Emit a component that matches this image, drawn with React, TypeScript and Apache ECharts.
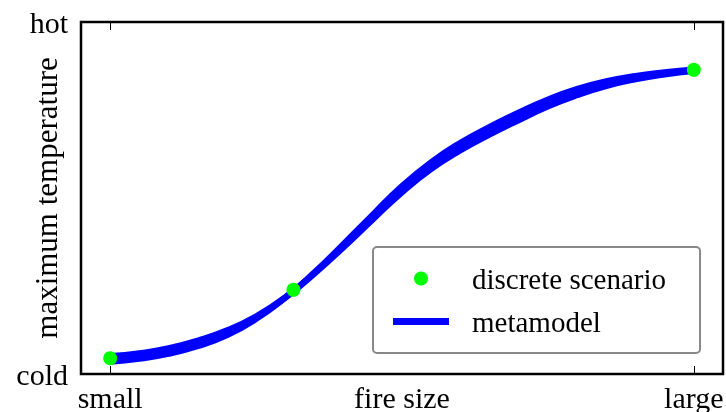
import React, { useEffect, useRef } from "react";
import * as echarts from "echarts";

// fire size (0 = small, 1 = large)
const xs = [0, 0.05, 0.1, 0.15, 0.2, 0.25, 0.3, 0.35, 0.4, 0.45, 0.5, 0.55, 0.6, 0.65, 0.7, 0.75, 0.8, 0.85, 0.9, 0.95, 1.0];
// metamodel realisations (0 = cold, 1 = hot)
const metamodelCenter = [0.043, 0.051, 0.065, 0.087, 0.117, 0.160, 0.217, 0.287, 0.365, 0.446, 0.525, 0.592, 0.646, 0.691, 0.732, 0.770, 0.801, 0.825, 0.842, 0.854, 0.863];
const metamodelUpper = [0.051, 0.059, 0.073, 0.095, 0.124, 0.164, 0.218, 0.289, 0.370, 0.453, 0.534, 0.602, 0.657, 0.702, 0.743, 0.780, 0.810, 0.832, 0.847, 0.857, 0.865];
const metamodelLower = [0.035, 0.043, 0.057, 0.079, 0.110, 0.156, 0.216, 0.285, 0.360, 0.439, 0.516, 0.582, 0.635, 0.680, 0.721, 0.760, 0.792, 0.818, 0.837, 0.851, 0.861];
// discrete scenarios
const scenarioX = [0, 0.314, 1];
const scenarioY = [0.045, 0.239, 0.864];

const xTickValues = [0, 1];
const xTickLabels = ["small", "large"];
const yTickValues = [0, 1];
const yTickLabels = ["cold", "hot"];

const FONT = "Liberation Serif";
const FS = 30;

export default function App() {
  const ref = useRef<HTMLDivElement>(null);
  useEffect(() => {
    if (!ref.current) return;
    const chart = echarts.init(ref.current, undefined, { renderer: "svg" });
    const curve = (ys: number[]) => xs.map((x, i) => [x, ys[i]]);
    const lineSeries = [metamodelUpper, metamodelLower, metamodelCenter].map((ys) => ({
      name: "metamodel",
      type: "line",
      data: curve(ys),
      smooth: 0.5,
      showSymbol: false,
      symbol: "none",
      lineStyle: { color: "#0000ff", width: 6 },
      itemStyle: { color: "#0000ff" },
      z: 2,
    }));
    chart.setOption({
      animation: false,
      textStyle: { fontFamily: FONT, color: "#000" },
      grid: {
        left: 81,
        right: 3,
        top: 22,
        bottom: 38,
        outerBoundsMode: "none",
        containLabel: false,
        show: true,
        borderColor: "#000",
        borderWidth: 2.5,
        backgroundColor: "transparent",
      },
      legend: {
        orient: "vertical",
        left: 373,
        top: 247,
        data: [
          { name: "discrete scenario" },
          { name: "metamodel", icon: "path://M0 0 H56 V7 H0 Z" },
        ],
        itemWidth: 56,
        itemHeight: 14,
        itemGap: 14,
        padding: [17, 34, 17, 20],
        borderColor: "#888",
        borderWidth: 2,
        borderRadius: 4,
        backgroundColor: "#fff",
        textStyle: { fontFamily: FONT, fontSize: 29, color: "#000", padding: [0, 0, 0, 18] },
      },
      xAxis: [
        {
          type: "value",
          min: -0.05,
          max: 1.05,
          name: "fire size",
          nameLocation: "middle",
          nameGap: 11,
          nameMoveOverlap: false,
          nameTextStyle: { fontFamily: FONT, fontSize: FS, lineHeight: 24, color: "#000", verticalAlign: "top" },
          axisLine: { show: false },
          splitLine: { show: false },
          axisTick: { show: true, inside: true, length: 8, customValues: xTickValues, lineStyle: { color: "#000", width: 1 } },
          axisLabel: {
            customValues: xTickValues,
            margin: 11,
            hideOverlap: false,
            fontFamily: FONT,
            fontSize: FS,
            lineHeight: 24,
            color: "#000",
            formatter: (v: number) => xTickLabels[xTickValues.indexOf(v)] ?? "",
          },
        },
        {
          type: "value",
          position: "top",
          min: -0.05,
          max: 1.05,
          axisLine: { show: false },
          splitLine: { show: false },
          axisTick: { show: true, inside: true, length: 8, customValues: xTickValues, lineStyle: { color: "#000", width: 1 } },
          axisLabel: { show: false },
        },
      ],
      yAxis: {
        type: "value",
        min: 0,
        max: 1,
        name: "maximum temperature",
        nameLocation: "middle",
        nameGap: 19,
        nameMoveOverlap: false,
        nameTextStyle: { fontFamily: FONT, fontSize: 31, color: "#000" },
        axisLine: { show: false },
        splitLine: { show: false },
        axisTick: { show: false },
        axisLabel: {
          customValues: yTickValues,
          margin: 13,
          fontFamily: FONT,
          fontSize: FS,
          color: "#000",
          formatter: (v: number) => yTickLabels[yTickValues.indexOf(v)] ?? "",
        },
      },
      series: [
        ...lineSeries,
        {
          name: "discrete scenario",
          type: "scatter",
          data: scenarioX.map((x, i) => [x, scenarioY[i]]),
          symbol: "circle",
          symbolSize: 14,
          itemStyle: { color: "#00ff00", opacity: 1 },
          z: 5,
        },
      ],
    });
    return () => chart.dispose();
  }, []);
  return (
    <div style={{ position: "fixed", left: 0, top: 0 }}>
      <div ref={ref} style={{ width: 726, height: 412 }} />
    </div>
  );
}
